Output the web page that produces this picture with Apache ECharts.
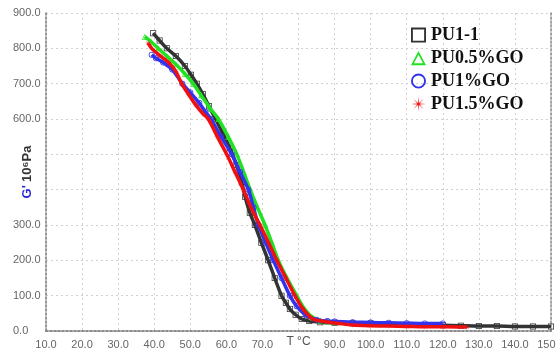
<!DOCTYPE html>
<html><head><meta charset="utf-8">
<script src="https://cdn.jsdelivr.net/npm/echarts@6/dist/echarts.min.js"></script>
<style>html,body{margin:0;padding:0;background:#fff}#c{width:556px;height:356px}</style>
</head><body><div id="c"></div>
<script>
var seriesNames = ['PU1-1', 'PU0.5%GO', 'PU1%GO', 'PU1.5%GO'];
var colors = ['#333333', '#22e022', '#3333ee', '#f01010'];
var xTicks = [10,20,30,40,50,60,70,80,90,100,110,120,130,140,150];
var yTicks = [0,100,200,300,400,500,600,700,800,900];

var pu11 = [[39.7,843],[41.5,822],[43.5,800],[46.0,778],[48.5,750],[50.2,725],[51.8,700],[53.5,670],[55.2,636],[57.0,600],[59.0,560],[61.0,517],[62.8,470],[64.3,420],[65.2,380],[66.5,335],[67.9,300],[69.7,250],[71.6,200],[73.4,150],[75.3,100],[76.5,80],[77.6,62],[79.2,46],[80.9,34],[83.0,28],[86.0,25],[90.0,23],[95.0,22],[100.0,21],[105.0,20],[110.0,18],[115.0,17],[120.0,16],[125.0,15],[130.0,14],[135.0,14],[140.0,13],[145.0,13],[150.0,13]];
var pu05 = [[37.4,833],[39.2,818],[41.1,800],[43.5,778],[46.0,755],[48.5,728],[50.8,700],[53.0,667],[55.5,630],[57.8,600],[60.5,550],[62.9,500],[64.8,450],[66.6,400],[68.6,350],[70.7,300],[72.6,250],[74.4,200],[76.8,150],[79.5,100],[81.0,72],[82.5,52],[84.0,38],[86.0,30],[88.0,27],[90.0,25]];
var pu1 = [[39.3,782],[40.5,772],[42.5,760],[45.0,740],[47.8,700],[50.0,675],[52.5,645],[54.2,620],[55.7,600],[58.5,550],[61.5,500],[63.8,450],[66.1,400],[67.5,350],[68.9,300],[70.9,250],[73.0,200],[75.3,150],[77.6,100],[79.5,70],[82.0,45],[85.0,32],[88.0,28],[90.0,27],[95.0,25],[100.0,24],[105.0,23],[110.0,22],[115.0,21],[120.0,21]];
var pu15 = [[38.3,815],[39.3,800],[41.5,780],[44.0,760],[46.0,735],[47.6,700],[49.5,670],[51.5,640],[53.5,615],[55.0,600],[57.5,550],[60.1,500],[62.4,450],[64.7,400],[66.8,350],[69.3,300],[71.7,250],[74.0,200],[76.5,150],[79.0,100],[81.3,62],[84.0,34],[87.0,27],[91.5,21],[95.0,17],[100.0,15],[105.0,14],[110.0,13],[115.0,12],[120.0,12],[126.7,11]];

function asteriskPath() {
  var pts = [], n = 8;
  for (var i = 0; i < n * 2; i++) {
    var a = Math.PI * i / n - Math.PI / 2;
    var r = (i % 2 === 0) ? 10 : 1.6;
    pts.push((10 + r * Math.cos(a)).toFixed(2) + ' ' + (10 + r * Math.sin(a)).toFixed(2));
  }
  return 'path://M' + pts.join(' L') + ' Z';
}
var hollowSquare = 'path://M0,0 L20,0 L20,20 L0,20 Z M2.5,2.5 L2.5,17.5 L17.5,17.5 L17.5,2.5 Z';
var hollowTriangle = 'path://M10,0 L20,19 L0,19 Z M10,5 L3.9,16.5 L16.1,16.5 Z';
var hollowCircle = 'path://M10,0 A10,10 0 1,1 10,20 A10,10 0 1,1 10,0 Z M10,2.5 A7.5,7.5 0 1,0 10,17.5 A7.5,7.5 0 1,0 10,2.5 Z';
var star = asteriskPath();
var symbols = [hollowSquare, hollowTriangle, hollowCircle, star];
var datas = [pu11, pu05, pu1, pu15];

var chart = echarts.init(document.getElementById('c'), null, {renderer: 'canvas'});
var labelStyle = {color: '#666', fontSize: 11, fontFamily: 'Arial, Liberation Sans, sans-serif'};
var option = {
  animation: false,
  backgroundColor: '#fff',
  grid: {left: 46, right: 5, top: 13, bottom: 25, containLabel: false, outerBoundsMode: 'none'},
  legend: {
    orient: 'vertical', left: 406, top: 21, itemWidth: 15, itemHeight: 15, itemGap: 5,
    textStyle: {fontFamily: 'Liberation Serif, Times New Roman, serif', fontWeight: 'bold', fontSize: 18, lineHeight: 15, color: '#111'},
    data: seriesNames.map(function (n, i) {
      return {name: n, icon: symbols[i], itemStyle: {color: colors[i], borderWidth: 0}};
    })
  },
  xAxis: [{
    type: 'value', min: 10, max: 150, interval: 10,
    name: 'T °C', nameLocation: 'middle', nameGap: 5, nameMoveOverlap: false,
    nameTextStyle: {color: '#555', fontSize: 12, fontFamily: 'Arial, Liberation Sans, sans-serif', verticalAlign: 'top'},
    axisLine: {show: true, onZero: false, lineStyle: {color: '#777', type: [2, 2], width: 1.5}},
    axisTick: {show: false},
    splitLine: {show: true, lineStyle: {color: '#d0d0d0', type: [2, 3]}},
    axisLabel: Object.assign({margin: 8, formatter: function (v) { return v === 80 ? '' : v.toFixed(1); }}, labelStyle)
  }, {
    type: 'value', min: 10, max: 150, position: 'top',
    axisLine: {show: true, lineStyle: {color: '#888', type: [2, 2], width: 1.5}},
    axisTick: {show: false}, axisLabel: {show: false}, splitLine: {show: false}
  }],
  yAxis: [{
    type: 'value', min: 0, max: 900, interval: 100,
    name: "{g|G'} {b|10⁶Pa}", nameLocation: 'middle', nameRotate: 90, nameGap: 12, nameMoveOverlap: false,
    nameTextStyle: {rich: {
      g: {color: '#2a2ad8', fontSize: 13, fontWeight: 'bold', fontFamily: 'Arial, Liberation Sans, sans-serif'},
      b: {color: '#333', fontSize: 13, fontWeight: 'bold', fontFamily: 'Arial, Liberation Sans, sans-serif'}
    }},
    axisLine: {show: true, onZero: false, lineStyle: {color: '#777', type: [2, 2], width: 1.5}},
    axisTick: {show: false},
    splitLine: {show: true, lineStyle: {color: '#d0d0d0', type: [2, 3]}},
    axisLabel: Object.assign({margin: 33, align: 'left', formatter: function (v) { return (v === 400 || v === 500) ? '' : v.toFixed(1); }}, labelStyle)
  }, {
    type: 'value', min: 0, max: 900, position: 'right',
    axisLine: {show: true, lineStyle: {color: '#888', type: [2, 2], width: 1.5}},
    axisTick: {show: false}, axisLabel: {show: false}, splitLine: {show: false}
  }],
  series: seriesNames.map(function (n, i) {
    return {
      name: n, type: 'line', data: datas[i], smooth: 0.3,
      symbol: symbols[i], symbolSize: i === 3 ? 7 : 6, showSymbol: true,
      itemStyle: {color: colors[i], borderWidth: 0},
      lineStyle: {color: colors[i], width: 3.5},
      z: 2 + i
    };
  })
};
chart.setOption(option);
</script></body></html>
